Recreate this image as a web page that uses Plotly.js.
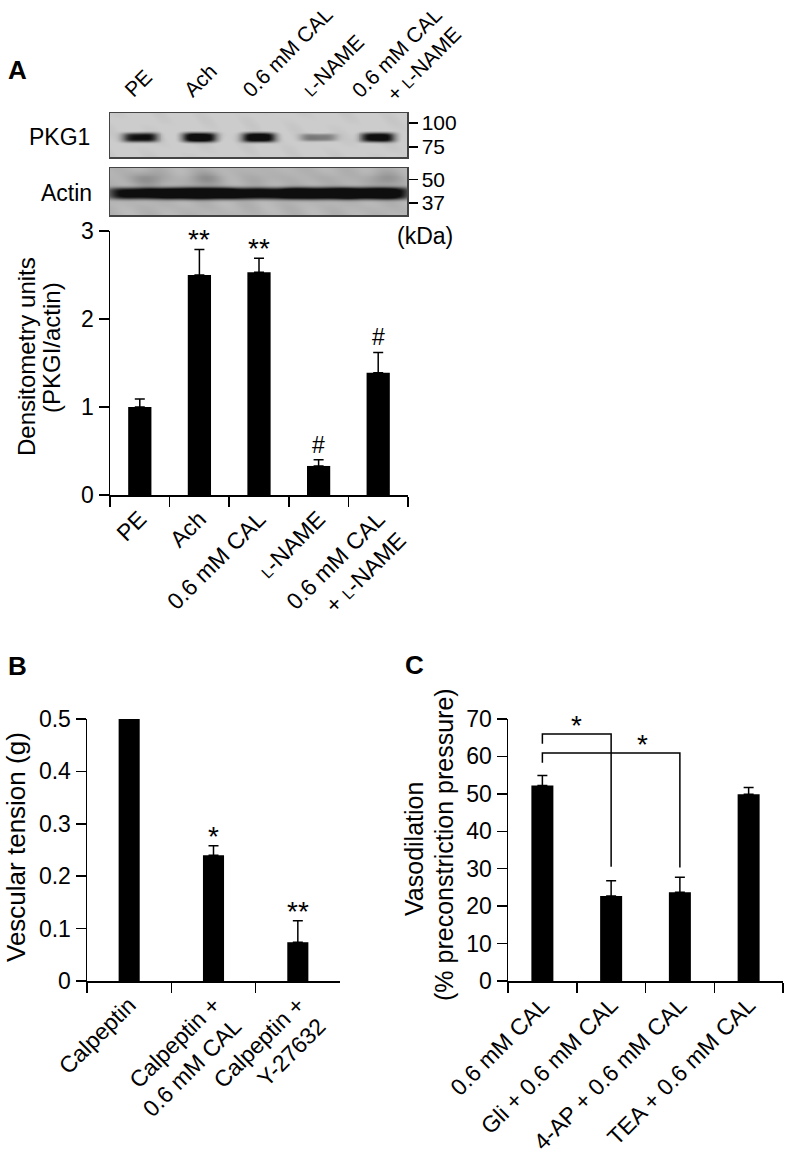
<!DOCTYPE html>
<html><head><meta charset="utf-8">
<script src="https://cdn.plot.ly/plotly-3.0.1.min.js"></script>
<style>html,body{margin:0;padding:0;background:#fff}</style>
</head><body><div id="chart" style="width:786px;height:1162px"></div>
<script>
const LN = '<span style="font-size:16px">L</span>-NAME';
const laneLabels = ['PE', 'Ach', '0.6 mM CAL', LN, '0.6 mM CAL<br>+ ' + LN];
const pkgBand = [0.9, 1.0, 1.0, 0.45, 0.95];
const actinBand = [0.85, 0.95, 0.85, 0.95, 0.95];
const pkgMarkers = ['100', '75'];
const actinMarkers = ['50', '37'];

const aTitle = ['Densitometry units', '(PKGI/actin)'];
const aValues = [1.0, 2.5, 2.53, 0.33, 1.39];
const aErr = [0.09, 0.29, 0.16, 0.07, 0.23];
const aSig = ['', '**', '**', '#', '#'];

const bTitle = ['Vescular tension (g)'];
const bCats = ['Calpeptin', 'Calpeptin +<br>0.6 mM CAL', 'Calpeptin +<br>Y-27632'];
const bValues = [0.5, 0.24, 0.074];
const bErr = [0, 0.018, 0.041];
const bSig = ['', '*', '**'];

const cTitle = ['Vasodilation', '(% preconstriction pressure)'];
const cCats = ['0.6 mM CAL', 'Gli + 0.6 mM CAL', '4-AP + 0.6 mM CAL', 'TEA + 0.6 mM CAL'];
const cValues = [52.2, 22.7, 23.7, 49.9];
const cErr = [2.7, 4.1, 4.0, 1.8];
const cBracket1 = [63.4, 66.0, 66.0, 30.5];
const cBracket2 = [58.3, 60.9, 60.9, 30.3];
const cBracketSig = ['*', '*'];

const FONT = 'Arial, "Liberation Sans", Helvetica, sans-serif';
const W = 786, H = 1162;
const px = v => v / W, py = v => 1 - v / H;

function blotZ(bands, yc, sx, sy, bg, smudge) {
  const xs = [], ys = [], z = [];
  for (let i = 0; i <= 150; i++) xs.push(-0.5 + i * 5 / 150);
  for (let j = 0; j <= 50; j++) ys.push(j / 50);
  ys.forEach(y => {
    const row = [];
    xs.forEach(x => {
      let v = bg + 0.04 * Math.sin(9 * x + 5 * y) * Math.cos(6 * y + x);
      bands.forEach((b, k) => {
        const dx = (x - k) / sx;
        const dy = (y - yc) / (sy * (0.6 + 0.4 * b));
        v += 1.15 * b * Math.exp(-dx * dx * dx * dx) * Math.exp(-dy * dy * dy * dy);
        if (smudge) {
          const dy2 = (y - (yc + 0.3)) / 0.16;
          const dx2 = (x - k - 0.1) / 0.3;
          v += smudge[k] * Math.exp(-dx2 * dx2 - dy2 * dy2);
        }
      });
      row.push(Math.min(v, 1));
    });
    z.push(row);
  });
  return {xs, ys, z};
}

const pk = blotZ(pkgBand, 0.45, 0.3, 0.11, 0.0, null);
const ac = blotZ(actinBand, 0.47, 0.56, 0.14, 0.14, [0.22, 0.2, 0.06, 0.05, 0.18]);
const grayScale = [[0, 'rgb(204,204,204)'], [0.5, 'rgb(120,120,120)'], [1, 'rgb(14,14,14)']];

const traces = [
  {type: 'heatmap', x: pk.xs, y: pk.ys, z: pk.z, xaxis: 'x2', yaxis: 'y2', colorscale: grayScale,
   zmin: 0, zmax: 1, zsmooth: 'best', showscale: false, hoverinfo: 'skip'},
  {type: 'heatmap', x: ac.xs, y: ac.ys, z: ac.z, xaxis: 'x3', yaxis: 'y3', colorscale: grayScale,
   zmin: 0, zmax: 1, zsmooth: 'best', showscale: false, hoverinfo: 'skip'},
  {type: 'bar', x: laneLabels, y: aValues, xaxis: 'x', yaxis: 'y', width: 0.39,
   marker: {color: '#000'},
   error_y: {type: 'data', symmetric: false, array: aErr, arrayminus: aErr.map(() => 0), color: '#000', thickness: 1.5, width: 5}},
  {type: 'bar', x: bCats, y: bValues, xaxis: 'x4', yaxis: 'y4', width: 0.25,
   marker: {color: '#000'},
   error_y: {type: 'data', symmetric: false, array: bErr, arrayminus: bErr.map(() => 0), color: '#000', thickness: 1.5, width: 5}},
  {type: 'bar', x: cCats, y: cValues, xaxis: 'x5', yaxis: 'y5', width: 0.32,
   marker: {color: '#000'},
   error_y: {type: 'data', symmetric: false, array: cErr, arrayminus: cErr.map(() => 0), color: '#000', thickness: 1.5, width: 5}},
  {type: 'scatter', mode: 'lines', x: [cCats[0], cCats[0], cCats[1], cCats[1]], y: cBracket1,
   xaxis: 'x5', yaxis: 'y5', line: {color: '#000', width: 1.5}, hoverinfo: 'skip'},
  {type: 'scatter', mode: 'lines', x: [cCats[0], cCats[0], cCats[2], cCats[2]], y: cBracket2,
   xaxis: 'x5', yaxis: 'y5', line: {color: '#000', width: 1.5}, hoverinfo: 'skip'}
];

const axBase = {showline: true, linecolor: '#000', linewidth: 1.5, ticks: 'outside', ticklen: 10,
  tickwidth: 1.5, tickcolor: '#000', showgrid: false, zeroline: false,
  tickfont: {size: 23, color: '#000', family: FONT}, fixedrange: true};
const blotX = {showline: true, mirror: true, linecolor: '#444', linewidth: 1.5, showgrid: false,
  zeroline: false, range: [-0.5, 4.5], fixedrange: true, showticklabels: false, ticks: ''};
const blotY = {showline: true, mirror: true, linecolor: '#444', linewidth: 1.5, showgrid: false,
  zeroline: false, range: [0, 1], side: 'right', ticks: 'outside', ticklen: 9, tickwidth: 1.5,
  tickcolor: '#000', tickfont: {size: 21, color: '#000', family: FONT}, fixedrange: true};

const annotations = [];
function addAnn(o) { annotations.push(Object.assign({showarrow: false, font: {size: 23, color: '#000', family: FONT}}, o)); }
const big = s => ({size: s, color: '#000', family: FONT});

addAnn({text: '<b>A</b>', xref: 'paper', yref: 'paper', x: px(6), y: py(70), xanchor: 'left', yanchor: 'middle', font: big(26)});
addAnn({text: '<b>B</b>', xref: 'paper', yref: 'paper', x: px(6), y: py(666), xanchor: 'left', yanchor: 'middle', font: big(26)});
addAnn({text: '<b>C</b>', xref: 'paper', yref: 'paper', x: px(403), y: py(665), xanchor: 'left', yanchor: 'middle', font: big(26)});
addAnn({text: 'PKG1', xref: 'paper', yref: 'paper', x: px(92), y: py(137), xanchor: 'right', yanchor: 'middle'});
addAnn({text: 'Actin', xref: 'paper', yref: 'paper', x: px(94), y: py(193), xanchor: 'right', yanchor: 'middle'});
addAnn({text: '(kDa)', xref: 'paper', yref: 'paper', x: px(455), y: py(236), xanchor: 'right', yanchor: 'middle'});

// y-axis titles, one annotation per line (tight line spacing as in the figure)
const titleCenters = [
  {lines: aTitle, xs: [26, 51], ys: [357, 348], size: 24},
  {lines: bTitle, xs: [16], ys: [847], size: 26},
  {lines: cTitle, xs: [414, 444], ys: [849, 845], size: 25}
];
titleCenters.forEach(t => t.lines.forEach((s, i) => {
  addAnn({text: s, xref: 'paper', yref: 'paper', x: px(t.xs[i]), y: py(t.ys[i]), xanchor: 'center', yanchor: 'middle',
    textangle: -90, font: big(t.size)});
}));

// lane labels above the blot, rotated
laneLabels.forEach((t, i) => {
  const n = t.split('<br>').length;
  addAnn({text: t, xref: 'x2', yref: 'paper', x: i, y: py(104), xanchor: 'left', yanchor: 'bottom',
    textangle: -45, align: 'right', font: big(21),
    xshift: n > 1 ? -33 : -23, yshift: n > 1 ? -20 : 0});
});

function sigAnn(sig, vals, errs, xr, yr) {
  sig.forEach((s, i) => {
    if (!s) return;
    const star = s.includes('*');
    addAnn({text: s, xref: xr, yref: yr, x: i, y: vals[i] + errs[i], xanchor: 'center', yanchor: 'bottom',
      yshift: star ? -8 : 0, font: big(star ? 28 : 23)});
  });
}
sigAnn(aSig, aValues, aErr, 'x', 'y');
sigAnn(bSig, bValues, bErr, 'x4', 'y4');
addAnn({text: cBracketSig[0], xref: 'x5', yref: 'y5', x: 0.5, y: cBracket1[1], xanchor: 'center', yanchor: 'bottom', yshift: -9, font: big(28)});
addAnn({text: cBracketSig[1], xref: 'x5', yref: 'y5', x: 1.45, y: cBracket2[1], xanchor: 'center', yanchor: 'bottom', yshift: -9, font: big(28)});

const layout = {
  width: W, height: H, margin: {l: 0, r: 0, t: 0, b: 0}, showlegend: false,
  paper_bgcolor: '#fff', plot_bgcolor: 'rgba(0,0,0,0)', font: {family: FONT, color: '#000', size: 23},
  xaxis: Object.assign({}, axBase, {domain: [px(110), px(408)], anchor: 'y', type: 'category',
    tickson: 'boundaries', tickangle: -45, range: [-0.5, 4.5]}),
  yaxis: Object.assign({}, axBase, {domain: [py(495), py(231)], anchor: 'x', range: [0, 3],
    tickvals: [0, 1, 2, 3]}),
  xaxis2: Object.assign({}, blotX, {domain: [px(110), px(407)], anchor: 'y2'}),
  yaxis2: Object.assign({}, blotY, {domain: [py(157), py(113)], anchor: 'x2', tickvals: [0.77, 0.23], ticktext: pkgMarkers}),
  xaxis3: Object.assign({}, blotX, {domain: [px(110), px(407)], anchor: 'y3'}),
  yaxis3: Object.assign({}, blotY, {domain: [py(215), py(168)], anchor: 'x3', tickvals: [0.76, 0.26], ticktext: actinMarkers}),
  xaxis4: Object.assign({}, axBase, {domain: [px(87), px(340)], anchor: 'y4', type: 'category',
    tickson: 'boundaries', tickangle: -45, range: [-0.5, 2.5]}),
  yaxis4: Object.assign({}, axBase, {domain: [py(981), py(719)], anchor: 'x4', range: [0, 0.5],
    tickvals: [0, 0.1, 0.2, 0.3, 0.4, 0.5], ticktext: ['0', '0.1', '0.2', '0.3', '0.4', '0.5']}),
  xaxis5: Object.assign({}, axBase, {domain: [px(508), px(783)], anchor: 'y5', type: 'category',
    tickson: 'boundaries', tickangle: -45, range: [-0.5, 3.5]}),
  yaxis5: Object.assign({}, axBase, {domain: [py(981), py(719)], anchor: 'x5', range: [0, 70],
    tickvals: [0, 10, 20, 30, 40, 50, 60, 70]}),
  annotations: annotations
};

Plotly.newPlot('chart', traces, layout, {displayModeBar: false, staticPlot: true});
</script>
</body></html>
